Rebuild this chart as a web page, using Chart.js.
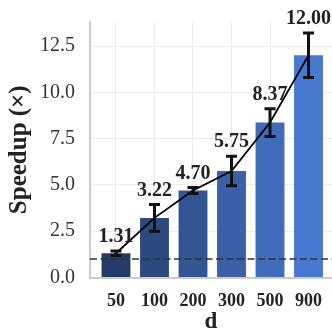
<!DOCTYPE html>
<html>
<head>
<meta charset="utf-8">
<script src="https://cdn.jsdelivr.net/npm/chart.js@4/dist/chart.umd.min.js"></script>
<style>
  html, body { margin: 0; padding: 0; background: #fff; }
  #wrap { width: 332px; height: 331px; }
</style>
</head>
<body>
<div id="wrap"><canvas id="myChart"></canvas></div>
<script>
const dValues = ['50', '100', '200', '300', '500', '900'];
const speedup = [1.31, 3.22, 4.70, 5.75, 8.37, 12.00];
const speedupErr = [0.12, 0.72, 0.16, 0.80, 0.75, 1.20];
const barColors = ['#253c68', '#2c4a7d', '#335593', '#3a60a7', '#416cbc', '#4878d0'];
const yTicks = [0, 2.5, 5, 7.5, 10, 12.5];
const baseline = 1;

const serif = '"Liberation Serif", "Times New Roman", serif';

// error bars, dashed baseline and value labels
const extrasPlugin = {
    id: 'extras',
    afterDatasetsDraw(chart) {
        const ctx = chart.ctx;
        const yScale = chart.scales.y;
        const area = chart.chartArea;
        const meta = chart.getDatasetMeta(0);

        ctx.save();
        // dashed reference line
        const yb = yScale.getPixelForValue(baseline);
        ctx.strokeStyle = '#333';
        ctx.lineWidth = 1.6;
        ctx.setLineDash([7, 3.5]);
        ctx.beginPath();
        ctx.moveTo(area.left, yb);
        ctx.lineTo(area.right, yb);
        ctx.stroke();
        ctx.setLineDash([]);

        meta.data.forEach((bar, i) => {
            const x = bar.x;
            const top = yScale.getPixelForValue(speedup[i] + speedupErr[i]);
            const bottom = yScale.getPixelForValue(speedup[i] - speedupErr[i]);
            ctx.strokeStyle = '#111';
            ctx.lineWidth = 3;
            ctx.beginPath();
            ctx.moveTo(x, top);
            ctx.lineTo(x, bottom);
            ctx.moveTo(x - 5.5, top);
            ctx.lineTo(x + 5.5, top);
            ctx.moveTo(x - 5.5, bottom);
            ctx.lineTo(x + 5.5, bottom);
            ctx.stroke();

            ctx.fillStyle = '#222';
            ctx.font = 'bold 20px ' + serif;
            ctx.textAlign = 'center';
            ctx.textBaseline = 'alphabetic';
            ctx.fillText(speedup[i].toFixed(2), x, top - 9);
        });
        ctx.restore();
    }
};

const points = speedup.map((v, i) => ({ x: i, y: v }));

new Chart(document.getElementById('myChart'), {
    data: {
        datasets: [
            {
                type: 'bar',
                data: points,
                backgroundColor: barColors,
                barPercentage: 0.75,
                categoryPercentage: 1,
                order: 2
            },
            {
                type: 'line',
                data: points,
                borderColor: '#000',
                borderWidth: 1.8,
                pointRadius: 0,
                tension: 0,
                order: 1
            }
        ]
    },
    options: {
        responsive: true,
        maintainAspectRatio: false,
        animation: false,
        layout: { padding: { top: 22, left: 0, right: 0, bottom: 0 } },
        plugins: {
            legend: { display: false },
            tooltip: { enabled: false }
        },
        scales: {
            x: {
                type: 'linear',
                offset: false,
                min: -0.675,
                max: 5.61,
                afterBuildTicks: axis => { axis.ticks = dValues.map((_, i) => ({ value: i })); },
                afterFit: axis => {
                    axis.height = 53.5;
                    axis.paddingLeft = 0;
                    axis.paddingRight = 0;
                },
                grid: { color: '#ebebeb', lineWidth: 1, drawTicks: false, offset: false },
                border: { color: '#cccccc', width: 2 },
                ticks: {
                    callback: v => dValues[v],
                    font: { family: serif, size: 18, weight: 'bold' },
                    color: '#222',
                    padding: 13,
                    maxRotation: 0,
                    autoSkip: false
                },
                title: {
                    display: true,
                    text: 'd',
                    font: { family: serif, size: 23, weight: 'bold', lineHeight: 0.75 },
                    color: '#222',
                    padding: 0
                }
            },
            y: {
                min: 0,
                max: 13.8,
                afterBuildTicks: axis => { axis.ticks = yTicks.map(v => ({ value: v })); },
                afterFit: axis => {
                    axis.width = 90;
                    axis.paddingTop = 0;
                    axis.paddingBottom = 0;
                },
                grid: { color: '#ebebeb', lineWidth: 1, drawTicks: false },
                border: { color: '#cccccc', width: 2 },
                ticks: {
                    callback: v => v.toFixed(1),
                    font: { family: serif, size: 20 },
                    color: '#333',
                    padding: 15
                },
                title: {
                    display: true,
                    text: 'Speedup (×)',
                    font: { family: serif, size: 25, weight: 'bold', lineHeight: 1 },
                    color: '#222',
                    padding: { top: 7, bottom: 0 }
                }
            }
        }
    },
    plugins: [extrasPlugin]
});
</script>
</body>
</html>
